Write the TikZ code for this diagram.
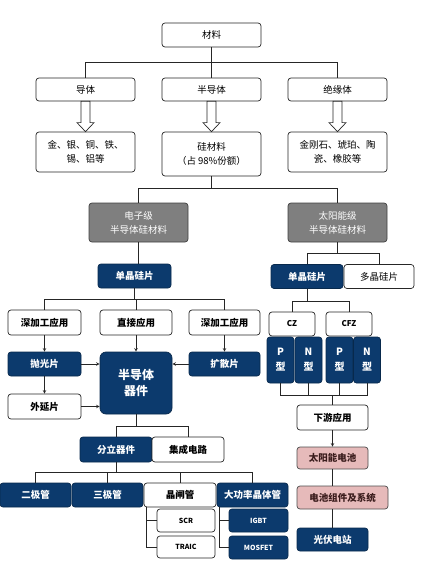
\documentclass[tikz,border=0pt]{standalone}
\usepackage{fontspec}
\newfontfamily\cjk{Noto Sans CJK SC}
\usetikzlibrary{arrows.meta, calc}

\definecolor{navy}{HTML}{0C3A6D}
\definecolor{boxgray}{HTML}{7F7F7F}
\definecolor{rose}{HTML}{E6BABA}
\definecolor{maroon}{HTML}{3A1C1C}

\begin{document}
\begin{tikzpicture}[x=1pt, y=-1pt,
    % Styles
    topbox/.style={rectangle, rounded corners=3pt, draw=black!85, line width=0.7pt, fill=white, align=center, inner sep=0pt, font=\cjk\fontsize{9.5}{14}\selectfont},
    greybox/.style={topbox, fill=boxgray, draw=black!75, text=white},
    wbox/.style={topbox, font=\cjk\bfseries\fontsize{9.5}{12}\selectfont},
    nbox/.style={wbox, fill=navy, draw=navy!70!black, text=white},
    pbox/.style={wbox, fill=rose, draw=black!70, text=maroon},
    small/.style={font=\cjk\bfseries\fontsize{7}{9}\selectfont},
    line/.style={line width=0.6pt, draw=black!85},
    arrow/.style={->, >=stealth, line width=0.6pt, draw=black!85},
    hollow/.style={draw=black!85, line width=0.7pt, fill=white},
]
\useasboundingbox (0,0) rectangle (439,567);

% ===== MATERIALS =====
\node[topbox, minimum width=99pt, minimum height=24pt] (mat) at (211.5,35) {材料};

\node[topbox, minimum width=99pt, minimum height=23pt] (dao) at (85.5,89.5) {导体};
\node[topbox, minimum width=99pt, minimum height=23pt] (ban) at (211.5,89.5) {半导体};
\node[topbox, minimum width=99pt, minimum height=23pt] (jue) at (337.5,89.5) {绝缘体};

\node[topbox, minimum width=99pt, minimum height=40pt] (jin) at (85.5,152) {金、银、铜、铁、\\锡、铝等};
\node[topbox, minimum width=99pt, minimum height=44pt] (gui) at (211.5,154) {硅材料\\（占 98\%份额）};
\node[topbox, minimum width=99pt, minimum height=40pt] (jgs) at (337.5,152) {金刚石、琥珀、陶\\瓷、橡胶等};

% ===== SILICON GRADES =====
\node[greybox, minimum width=99pt, minimum height=39pt] (dzj) at (138.5,222.5) {电子级\\半导体硅材料};
\node[greybox, minimum width=99pt, minimum height=39pt] (tyn) at (337.5,222.5) {太阳能级\\半导体硅材料};

\node[nbox, minimum width=73pt, minimum height=24pt] (dj1) at (134.5,276) {单晶硅片};
\node[nbox, minimum width=72pt, minimum height=24pt] (dj2) at (307,276.5) {单晶硅片};
\node[topbox, minimum width=70pt, minimum height=24pt] (djg) at (379,276.5) {多晶硅片};

% ===== ELECTRONIC BRANCH =====
\node[wbox, minimum width=73pt, minimum height=25pt] (sj1) at (44.5,322.5) {深加工应用};
\node[wbox, minimum width=72pt, minimum height=25pt] (zj) at (136,322.5) {直接应用};
\node[wbox, minimum width=71pt, minimum height=25pt] (sj2) at (224.5,322.5) {深加工应用};

\node[nbox, minimum width=73pt, minimum height=24pt] (pg) at (44.5,364) {抛光片};
\node[wbox, minimum width=73pt, minimum height=25pt] (wy) at (44.5,406.5) {外延片};
\node[nbox, rounded corners=6pt, minimum width=72pt, minimum height=62pt, font=\cjk\bfseries\fontsize{12}{16}\selectfont] (qj) at (136,383) {半导体\\器件};
\node[nbox, minimum width=71pt, minimum height=24pt] (ks) at (224.5,364) {扩散片};

\node[nbox, minimum width=72pt, minimum height=25pt] (fl) at (116,449.5) {分立器件};
\node[wbox, minimum width=72pt, minimum height=25pt] (jc) at (188,449.5) {集成电路};

\node[nbox, minimum width=71pt, minimum height=24pt] (ej) at (35.5,495) {二极管};
\node[nbox, minimum width=71pt, minimum height=24pt] (sjg) at (107.5,495) {三极管};
\node[wbox, minimum width=72pt, minimum height=24pt] (jz) at (180,495) {晶闸管};
\node[nbox, minimum width=71pt, minimum height=24pt] (dg) at (252.5,495) {大功率晶体管};

\node[wbox, small, minimum width=58pt, minimum height=23pt] (scr) at (186,520.5) {SCR};
\node[wbox, small, minimum width=58pt, minimum height=22pt] (tr) at (186,547) {TRAIC};
\node[nbox, small, minimum width=59pt, minimum height=23pt] (igbt) at (258.5,520.5) {IGBT};
\node[nbox, small, minimum width=59pt, minimum height=23pt] (mos) at (258.5,547.5) {MOSFET};

% ===== SOLAR BRANCH =====
\node[wbox, minimum width=46pt, minimum height=24pt, font=\cjk\bfseries\fontsize{8}{10}\selectfont] (cz) at (292,324) {CZ};
\node[wbox, minimum width=46pt, minimum height=24pt, font=\cjk\bfseries\fontsize{8}{10}\selectfont] (cfz) at (349,324) {CFZ};

\node[nbox, minimum width=27pt, minimum height=46pt, font=\cjk\bfseries\fontsize{10}{15}\selectfont] (p1) at (280.5,360) {P\\型};
\node[nbox, minimum width=27pt, minimum height=46pt, font=\cjk\bfseries\fontsize{10}{15}\selectfont] (n1) at (308.5,360) {N\\型};
\node[nbox, minimum width=27pt, minimum height=46pt, font=\cjk\bfseries\fontsize{10}{15}\selectfont] (p2) at (339.5,360) {P\\型};
\node[nbox, minimum width=27pt, minimum height=46pt, font=\cjk\bfseries\fontsize{10}{15}\selectfont] (n2) at (367,360) {N\\型};

\node[wbox, minimum width=71pt, minimum height=25pt] (xy) at (332.5,417.5) {下游应用};
\node[pbox, minimum width=71pt, minimum height=22pt] (tyc) at (332.5,458) {太阳能电池};
\node[pbox, minimum width=91pt, minimum height=23pt] (dczj) at (342.5,497.5) {电池组件及系统};
\node[nbox, minimum width=71pt, minimum height=23pt] (gf) at (332.5,539.5) {光伏电站};

% ===== CONNECTORS =====
% Materials tree
\draw[line] (mat.south) -- ++(0,15) -| (dao.north);
\draw[line] (mat.south) -- ++(0,15) -| (jue.north);
\draw[line] (mat.south) -- (ban.north);

\foreach \a/\b in {dao/jin, ban/gui, jue/jgs}
  \draw[hollow] let \p1=(\a.south), \p2=(\b.north) in
    (\x1-4.5pt,\y1) -- (\x1-4.5pt,\y2+9pt) -- (\x1-8.5pt,\y2+9pt) -- (\x1,\y2)
    -- (\x1+8.5pt,\y2+9pt) -- (\x1+4.5pt,\y2+9pt) -- (\x1+4.5pt,\y1) -- cycle;

% Silicon to grades
\draw[line] (gui.south) -- ++(0,12) -| (dzj.north);
\draw[line] (gui.south) -- ++(0,12) -| (tyn.north);
\draw[line] (dzj.south) -- (dzj.south |- dj1.north);
\draw[line] (tyn.south) -- ++(0,11) -| (dj2.north);
\draw[line] (tyn.south) -- ++(0,11) -| (djg.north);

% Electronic branch
\draw[line] (dj1.south) -- ++(0,11) -| (sj1.north);
\draw[line] (dj1.south) -- ++(0,11) -| (zj.north);
\draw[line] (dj1.south) -- ++(0,11) -| (sj2.north);
\draw[arrow] (sj1.south) -- (pg.north);
\draw[arrow] (pg.south) -- (wy.north);
\draw[arrow] (zj.south) -- (qj.north);
\draw[arrow] (sj2.south) -- (ks.north);
\draw[arrow] (pg.east) -- (pg.east -| qj.west);
\draw[arrow] (wy.east) -- (wy.east -| qj.west);
\draw[arrow] (ks.west) -- (ks.west -| qj.east);

\draw[line] (qj.south) -- ++(0,12) -| (fl.north);
\draw[line] (qj.south) -- ++(0,12) -| (jc.north);
\draw[line] (fl.south) -- ++(0,10) -| (ej.north);
\draw[line] (fl.south) -- ++(0,10) -| (sjg.north);
\draw[line] (fl.south) -- ++(0,10) -| (jz.north);
\draw[line] (fl.south) -- ++(0,10) -| (dg.north);

\draw[line] ([xshift=3pt]jz.south west) |- (scr.west);
\draw[line] ([xshift=3pt]jz.south west) |- (tr.west);
\draw[line] ([xshift=3pt]dg.south west) |- (igbt.west);
\draw[line] ([xshift=3pt]dg.south west) |- (mos.west);

% Solar branch
\draw[line] (dj2.south) -- ++(0,12) -| (cz.north);
\draw[line] (dj2.south) -- ++(0,12) -| (cfz.north);
\draw[line] (p1.south) -- ++(0,12) -| (xy.north);
\draw[line] (n1.south) -- ++(0,12) -| (xy.north);
\draw[line] (p2.south) -- ++(0,12) -| (xy.north);
\draw[line] (n2.south) -- ++(0,12) -| (xy.north);
\draw[arrow] (xy.south) -- (tyc.north);
\draw[line] (tyc.south) -- (tyc.south |- dczj.north);
\draw[line] (gf.north) -- (gf.north |- dczj.south);

\end{tikzpicture}
\end{document}
